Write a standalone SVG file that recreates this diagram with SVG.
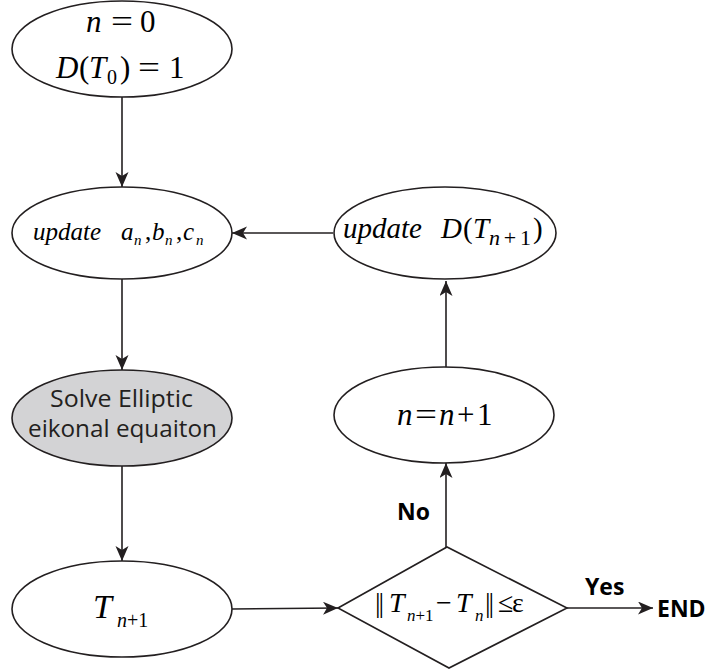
<svg xmlns="http://www.w3.org/2000/svg" width="710" height="672" viewBox="0 0 710 672">
<style>
.shape{fill:#fff;stroke:#231f20;stroke-width:1.6}
.gray{fill:#d3d3d5}
.conn line{stroke:#231f20;stroke-width:1.6;fill:none}
.m{font-family:"Liberation Serif",serif;fill:#000}
.i{font-style:italic}
.s{font-family:"Open Sans","Noto Sans",sans-serif;fill:#231f20}
.b{font-family:"Open Sans","Noto Sans",sans-serif;font-weight:bold;font-size:23px;fill:#000}
</style>
<defs>
<marker id="ah" markerUnits="userSpaceOnUse" markerWidth="16" markerHeight="14" refX="15" refY="6.5" orient="auto">
<path d="M0,0 L15,6.5 L0,13 L4,6.5 z" fill="#231f20"/>
</marker>
</defs>
<g class="conn">
<line x1="122" y1="97" x2="122" y2="187" marker-end="url(#ah)"/>
<line x1="333" y1="233" x2="232" y2="233" marker-end="url(#ah)"/>
<line x1="122" y1="279" x2="122" y2="370" marker-end="url(#ah)"/>
<line x1="122" y1="466" x2="122" y2="561" marker-end="url(#ah)"/>
<line x1="232" y1="609" x2="338" y2="608" marker-end="url(#ah)"/>
<line x1="446" y1="547" x2="446" y2="463" marker-end="url(#ah)"/>
<line x1="446" y1="367" x2="446" y2="281" marker-end="url(#ah)"/>
<line x1="567" y1="608" x2="653" y2="608" marker-end="url(#ah)"/>
</g>
<g id="start">
<ellipse class="shape" cx="122" cy="49" rx="110" ry="48"/>
<text class="m" y="32" font-size="31"><tspan class="i" x="86">n</tspan><tspan x="111" textLength="22" lengthAdjust="spacingAndGlyphs">=</tspan><tspan x="140">0</tspan></text>
<text class="m" y="78" font-size="31"><tspan class="i" x="56">D</tspan><tspan x="79">(</tspan><tspan class="i" x="89">T</tspan><tspan x="107" font-size="20" dy="6">0</tspan><tspan x="120" dy="-6">)</tspan><tspan x="138" textLength="22" lengthAdjust="spacingAndGlyphs">=</tspan><tspan x="169">1</tspan></text>
</g>
<g id="update-abc">
<ellipse class="shape" cx="122" cy="233" rx="110" ry="46"/>
<text class="m" y="240" font-size="25"><tspan class="i" x="33">update</tspan><tspan class="i" x="121">a</tspan><tspan class="i" x="134" font-size="15" dy="5">n</tspan><tspan x="145" dy="-5">,</tspan><tspan class="i" x="152">b</tspan><tspan class="i" x="165" font-size="15" dy="5">n</tspan><tspan x="176" dy="-5">,</tspan><tspan class="i" x="183">c</tspan><tspan class="i" x="196" font-size="15" dy="5">n</tspan></text>
</g>
<g id="update-d">
<ellipse class="shape" cx="445" cy="233" rx="111" ry="46"/>
<text class="m" y="238" font-size="29"><tspan class="i" x="343">update</tspan><tspan class="i" x="441">D</tspan><tspan x="463">(</tspan><tspan class="i" x="473">T</tspan><tspan x="489" font-size="22" dy="7" textLength="42" lengthAdjust="spacing"><tspan class="i">n</tspan>+1</tspan><tspan x="533" dy="-7">)</tspan></text>
</g>
<g id="solve">
<ellipse class="shape gray" cx="122" cy="418" rx="110" ry="48"/>
<text class="s" x="50" y="407" font-size="24" textLength="143" lengthAdjust="spacingAndGlyphs">Solve Elliptic</text>
<text class="s" x="28" y="437" font-size="24" textLength="189" lengthAdjust="spacingAndGlyphs">eikonal equaiton</text>
</g>
<g id="t-next">
<ellipse class="shape" cx="122" cy="609" rx="110" ry="48"/>
<text class="m" y="618" font-size="34"><tspan class="i" x="93">T</tspan><tspan x="117" font-size="20" dy="9"><tspan class="i">n</tspan>+1</tspan></text>
</g>
<g id="increment">
<ellipse class="shape" cx="444" cy="415" rx="110" ry="48"/>
<text class="m" y="425" font-size="31"><tspan class="i" x="397">n</tspan><tspan x="415" textLength="22" lengthAdjust="spacingAndGlyphs">=</tspan><tspan class="i" x="439">n</tspan><tspan x="457">+</tspan><tspan x="477">1</tspan></text>
</g>
<g id="check">
<polygon class="shape" points="338,608 447,547 567,608 449,668"/>
<text class="m" y="612" font-size="28"><tspan x="375" letter-spacing="-2">||</tspan><tspan class="i" x="389">T</tspan><tspan x="407" font-size="17" dy="9"><tspan class="i">n</tspan>+1</tspan><tspan x="436" dy="-9">−</tspan><tspan class="i" x="456">T</tspan><tspan class="i" x="475" font-size="17" dy="9">n</tspan><tspan x="485" dy="-9" letter-spacing="-2">||</tspan><tspan x="498">≤</tspan><tspan x="512">ε</tspan></text>
</g>
<g id="labels">
<text class="b" x="397" y="520">No</text>
<text class="b" x="585" y="595">Yes</text>
<text class="b" x="657" y="617">END</text>
</g>
</svg>
